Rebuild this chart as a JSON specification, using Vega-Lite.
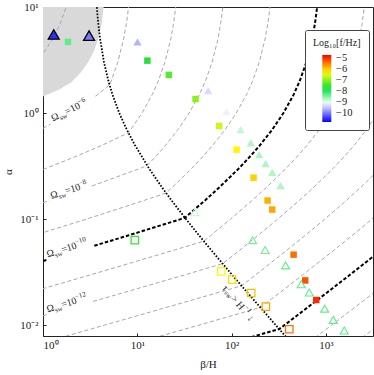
{
  "$schema": "https://vega.github.io/schema/vega-lite/v6.json",
  "autosize": {"type": "none"},
  "padding": {"left": 43, "top": 7, "right": 1, "bottom": 39},
  "width": 330,
  "height": 329,
  "background": "white",
  "config": {
    "view": {"stroke": "#222", "strokeWidth": 1},
    "axis": {"grid": false, "domain": false, "tickColor": "#222", "tickSize": -3, "labelFont": "Liberation Serif", "labelFontSize": 11, "titleFont": "Liberation Serif", "titleFontSize": 11, "titleFontWeight": "normal", "labelColor": "#222", "titleColor": "#222"},
    "text": {"font": "Liberation Serif", "color": "#222"}
  },
  "datasets": {
    "contours": [
      {"n": -5, "s": "m5", "b": 0.383, "a": 1.5}, {"n": -5, "s": "m5", "b": 0.564, "a": 2}, {"n": -5, "s": "m5", "b": 0.867, "a": 3}, {"n": -5, "s": "m5", "b": 1.275, "a": 5}, {"n": -5, "s": "m5", "b": 1.526, "a": 7}, {"n": -5, "s": "m5", "b": 1.758, "a": 10},
      {"n": -6, "s": "m6a", "b": 1, "a": 0.718}, {"n": -6, "s": "m6a", "b": 1.2, "a": 0.786},
      {"n": -6, "s": "m6b", "b": 3.6, "a": 1.445}, {"n": -6, "s": "m6b", "b": 3.83, "a": 1.5}, {"n": -6, "s": "m6b", "b": 5.08, "a": 1.849}, {"n": -6, "s": "m6b", "b": 5.28, "a": 2}, {"n": -6, "s": "m6b", "b": 6.2, "a": 3}, {"n": -6, "s": "m6b", "b": 7.17, "a": 5}, {"n": -6, "s": "m6b", "b": 7.67, "a": 7}, {"n": -6, "s": "m6b", "b": 8.09, "a": 10},
      {"n": -7, "s": "m7", "b": 0.305, "a": 0.2}, {"n": -7, "s": "m7", "b": 1.065, "a": 0.3}, {"n": -7, "s": "m7", "b": 2.401, "a": 0.4}, {"n": -7, "s": "m7", "b": 4.3, "a": 0.5}, {"n": -7, "s": "m7", "b": 8.04, "a": 0.652}, {"n": -7, "s": "m7", "b": 8.56, "a": 0.7}, {"n": -7, "s": "m7", "b": 11.22, "a": 1}, {"n": -7, "s": "m7", "b": 14.44, "a": 1.5}, {"n": -7, "s": "m7", "b": 16.69, "a": 2}, {"n": -7, "s": "m7", "b": 19.62, "a": 3}, {"n": -7, "s": "m7", "b": 22.68, "a": 5}, {"n": -7, "s": "m7", "b": 24.25, "a": 7}, {"n": -7, "s": "m7", "b": 25.57, "a": 10},
      {"n": -8, "s": "m8a", "b": 1, "a": 0.1429}, {"n": -8, "s": "m8a", "b": 1.17, "a": 0.1495},
      {"n": -8, "s": "m8b", "b": 3.3, "a": 0.205}, {"n": -8, "s": "m8b", "b": 10.65, "a": 0.3}, {"n": -8, "s": "m8b", "b": 12.75, "a": 0.3204}, {"n": -8, "s": "m8b", "b": 16.16, "a": 0.4}, {"n": -8, "s": "m8b", "b": 20.11, "a": 0.5}, {"n": -8, "s": "m8b", "b": 27.07, "a": 0.7}, {"n": -8, "s": "m8b", "b": 35.49, "a": 1}, {"n": -8, "s": "m8b", "b": 45.66, "a": 1.5}, {"n": -8, "s": "m8b", "b": 52.78, "a": 2}, {"n": -8, "s": "m8b", "b": 62.04, "a": 3}, {"n": -8, "s": "m8b", "b": 71.71, "a": 5}, {"n": -8, "s": "m8b", "b": 76.69, "a": 7}, {"n": -8, "s": "m8b", "b": 80.87, "a": 10},
      {"n": -9, "s": "m9", "b": 0.2285, "a": 0.05}, {"n": -9, "s": "m9", "b": 0.7976, "a": 0.07}, {"n": -9, "s": "m9", "b": 2.897, "a": 0.1}, {"n": -9, "s": "m9", "b": 11.83, "a": 0.15}, {"n": -9, "s": "m9", "b": 20.21, "a": 0.1764}, {"n": -9, "s": "m9", "b": 23.59, "a": 0.2}, {"n": -9, "s": "m9", "b": 37.69, "a": 0.3}, {"n": -9, "s": "m9", "b": 51.1, "a": 0.4}, {"n": -9, "s": "m9", "b": 63.6, "a": 0.5}, {"n": -9, "s": "m9", "b": 85.6, "a": 0.7}, {"n": -9, "s": "m9", "b": 112.2, "a": 1}, {"n": -9, "s": "m9", "b": 144.4, "a": 1.5}, {"n": -9, "s": "m9", "b": 166.9, "a": 2}, {"n": -9, "s": "m9", "b": 196.2, "a": 3}, {"n": -9, "s": "m9", "b": 226.8, "a": 5}, {"n": -9, "s": "m9", "b": 242.5, "a": 7}, {"n": -9, "s": "m9", "b": 255.7, "a": 10},
      {"n": -10, "s": "m10a", "b": 1, "a": 0.04024}, {"n": -10, "s": "m10a", "b": 1.09, "a": 0.04115},
      {"n": -10, "s": "m10b", "b": 3.5, "a": 0.05608}, {"n": -10, "s": "m10b", "b": 7.976, "a": 0.07}, {"n": -10, "s": "m10b", "b": 28.97, "a": 0.1}, {"n": -10, "s": "m10b", "b": 32.03, "a": 0.1029}, {"n": -10, "s": "m10b", "b": 52.26, "a": 0.15}, {"n": -10, "s": "m10b", "b": 74.6, "a": 0.2}, {"n": -10, "s": "m10b", "b": 119.2, "a": 0.3}, {"n": -10, "s": "m10b", "b": 161.6, "a": 0.4}, {"n": -10, "s": "m10b", "b": 201.1, "a": 0.5}, {"n": -10, "s": "m10b", "b": 270.7, "a": 0.7}, {"n": -10, "s": "m10b", "b": 354.9, "a": 1}, {"n": -10, "s": "m10b", "b": 456.6, "a": 1.5}, {"n": -10, "s": "m10b", "b": 527.8, "a": 2}, {"n": -10, "s": "m10b", "b": 620.4, "a": 3}, {"n": -10, "s": "m10b", "b": 717.1, "a": 5}, {"n": -10, "s": "m10b", "b": 766.9, "a": 7}, {"n": -10, "s": "m10b", "b": 808.7, "a": 10},
      {"n": -11, "s": "m11", "b": 0.01865, "a": 0.008}, {"n": -11, "s": "m11", "b": 0.045, "a": 0.01}, {"n": -11, "s": "m11", "b": 0.6815, "a": 0.02}, {"n": -11, "s": "m11", "b": 3.272, "a": 0.03}, {"n": -11, "s": "m11", "b": 22.85, "a": 0.05}, {"n": -11, "s": "m11", "b": 50.75, "a": 0.062}, {"n": -11, "s": "m11", "b": 60.13, "a": 0.07}, {"n": -11, "s": "m11", "b": 97.5, "a": 0.1}, {"n": -11, "s": "m11", "b": 165.2, "a": 0.15}, {"n": -11, "s": "m11", "b": 235.9, "a": 0.2}, {"n": -11, "s": "m11", "b": 376.9, "a": 0.3}, {"n": -11, "s": "m11", "b": 510.9, "a": 0.4}, {"n": -11, "s": "m11", "b": 636.1, "a": 0.5}, {"n": -11, "s": "m11", "b": 856, "a": 0.7}, {"n": -11, "s": "m11", "b": 1122, "a": 1}, {"n": -11, "s": "m11", "b": 1444, "a": 1.5}, {"n": -11, "s": "m11", "b": 1669, "a": 2}, {"n": -11, "s": "m11", "b": 1962, "a": 3}, {"n": -11, "s": "m11", "b": 2268, "a": 5}, {"n": -11, "s": "m11", "b": 2425, "a": 7}, {"n": -11, "s": "m11", "b": 2557, "a": 10},
      {"n": -12, "s": "m12a", "b": 1, "a": 0.01226}, {"n": -12, "s": "m12a", "b": 1.09, "a": 0.01253},
      {"n": -12, "s": "m12b", "b": 3.4, "a": 0.01675}, {"n": -12, "s": "m12b", "b": 6.815, "a": 0.02}, {"n": -12, "s": "m12b", "b": 32.72, "a": 0.03}, {"n": -12, "s": "m12b", "b": 80.4, "a": 0.038}, {"n": -12, "s": "m12b", "b": 119, "a": 0.05}, {"n": -12, "s": "m12b", "b": 190.1, "a": 0.07}, {"n": -12, "s": "m12b", "b": 308.4, "a": 0.1}, {"n": -12, "s": "m12b", "b": 522.6, "a": 0.15}, {"n": -12, "s": "m12b", "b": 745.9, "a": 0.2}, {"n": -12, "s": "m12b", "b": 1192, "a": 0.3}, {"n": -12, "s": "m12b", "b": 1616, "a": 0.4}, {"n": -12, "s": "m12b", "b": 2011, "a": 0.5}, {"n": -12, "s": "m12b", "b": 2707, "a": 0.7}, {"n": -12, "s": "m12b", "b": 3549, "a": 1},
      {"n": -13, "s": "m13", "b": 1.099, "a": 0.007}, {"n": -13, "s": "m13", "b": 1.865, "a": 0.008}, {"n": -13, "s": "m13", "b": 4.5, "a": 0.01}, {"n": -13, "s": "m13", "b": 68.15, "a": 0.02}, {"n": -13, "s": "m13", "b": 127.5, "a": 0.0235}, {"n": -13, "s": "m13", "b": 181.5, "a": 0.03}, {"n": -13, "s": "m13", "b": 376.2, "a": 0.05}, {"n": -13, "s": "m13", "b": 601.3, "a": 0.07}, {"n": -13, "s": "m13", "b": 975.2, "a": 0.1}, {"n": -13, "s": "m13", "b": 1652, "a": 0.15}, {"n": -13, "s": "m13", "b": 2359, "a": 0.2}, {"n": -13, "s": "m13", "b": 3769, "a": 0.3},
      {"n": -14, "s": "m14", "b": 11.0, "a": 0.007}, {"n": -14, "s": "m14", "b": 18.65, "a": 0.008}, {"n": -14, "s": "m14", "b": 45.0, "a": 0.01}, {"n": -14, "s": "m14", "b": 202.1, "a": 0.01467}, {"n": -14, "s": "m14", "b": 318.8, "a": 0.02}, {"n": -14, "s": "m14", "b": 574.1, "a": 0.03}, {"n": -14, "s": "m14", "b": 1189.6, "a": 0.05}, {"n": -14, "s": "m14", "b": 1901, "a": 0.07}, {"n": -14, "s": "m14", "b": 3084, "a": 0.1}, {"n": -14, "s": "m14", "b": 5226, "a": 0.15},
      {"n": -15, "s": "m15", "b": 109.9, "a": 0.007}, {"n": -15, "s": "m15", "b": 186.5, "a": 0.008}, {"n": -15, "s": "m15", "b": 320.2, "a": 0.00918}, {"n": -15, "s": "m15", "b": 363.8, "a": 0.01}, {"n": -15, "s": "m15", "b": 1008, "a": 0.02}, {"n": -15, "s": "m15", "b": 1815, "a": 0.03}, {"n": -15, "s": "m15", "b": 3762, "a": 0.05},
      {"n": -16, "s": "m16", "b": 678.1, "a": 0.007}, {"n": -16, "s": "m16", "b": 826.9, "a": 0.008}, {"n": -16, "s": "m16", "b": 1150, "a": 0.01}, {"n": -16, "s": "m16", "b": 3187, "a": 0.02}, {"n": -16, "s": "m16", "b": 5741, "a": 0.03},
      {"n": -17, "s": "m17", "b": 2145, "a": 0.007}, {"n": -17, "s": "m17", "b": 2615, "a": 0.008}, {"n": -17, "s": "m17", "b": 3637, "a": 0.01}
    ],
    "dotted": [
      {"b": 418.3, "a": 0.007}, {"b": 366.6, "a": 0.008}, {"b": 294.1, "a": 0.01}, {"b": 149.1, "a": 0.02}, {"b": 100.7, "a": 0.03}, {"b": 61.96, "a": 0.05}, {"b": 45.33, "a": 0.07}, {"b": 32.83, "a": 0.1}, {"b": 23.1, "a": 0.15}, {"b": 18.22, "a": 0.2}, {"b": 13.33, "a": 0.3}, {"b": 9.41, "a": 0.5}, {"b": 7.72, "a": 0.7}, {"b": 6.44, "a": 1}, {"b": 5.445, "a": 1.5}, {"b": 4.945, "a": 2}, {"b": 4.44, "a": 3}, {"b": 4.031, "a": 5}, {"b": 3.854, "a": 7}, {"b": 3.721, "a": 10}
    ],
    "shade": [
      {"b": 1, "a": 1.43}, {"b": 1.5, "a": 1.68}, {"b": 2.0, "a": 1.95}, {"b": 2.5, "a": 2.4}, {"b": 3.0, "a": 3.0}, {"b": 3.5, "a": 3.9}, {"b": 3.9, "a": 5.2}, {"b": 4.2, "a": 7.0}, {"b": 4.4, "a": 10}
    ],
    "runs": [
      {"m": "fs", "b": 1.84, "a": 4.69, "f": -8.3},
      {"m": "fs", "b": 12.8, "a": 3.12, "f": -7.6},
      {"m": "fs", "b": 21.6, "a": 2.29, "f": -7.3},
      {"m": "fs", "b": 41.5, "a": 1.354, "f": -7.0},
      {"m": "fs", "b": 73.9, "a": 0.755, "f": -6.6},
      {"m": "fs", "b": 113, "a": 0.452, "f": -6.25},
      {"m": "fs", "b": 171, "a": 0.246, "f": -6.0},
      {"m": "fs", "b": 241, "a": 0.1496, "f": -5.8},
      {"m": "fs", "b": 270, "a": 0.123, "f": -5.75},
      {"m": "fs", "b": 455, "a": 0.0462, "f": -5.4},
      {"m": "fs", "b": 604, "a": 0.0264, "f": -5.2},
      {"m": "fs", "b": 791, "a": 0.01726, "f": -4.95},
      {"m": "ft", "b": 10.05, "a": 4.69, "f": -9.6},
      {"m": "ft", "b": 56.5, "a": 1.63, "f": -9.35},
      {"m": "ft", "b": 88.5, "a": 1.03, "f": -9.2},
      {"m": "ft", "b": 124.6, "a": 0.697, "f": -8.8},
      {"m": "ft", "b": 160, "a": 0.522, "f": -8.7},
      {"m": "ft", "b": 196, "a": 0.405, "f": -8.7},
      {"m": "ft", "b": 229.6, "a": 0.333, "f": -8.7},
      {"m": "ft", "b": 270, "a": 0.276, "f": -8.7},
      {"m": "ft", "b": 331, "a": 0.207, "f": -8.7},
      {"m": "et", "b": 1.3, "a": 5.51, "f": -10.5},
      {"m": "et", "b": 3.08, "a": 5.37, "f": -10.0},
      {"m": "os", "b": 9.41, "a": 0.0633, "f": -7.5},
      {"m": "os", "b": 77.6, "a": 0.0321, "f": -6.35},
      {"m": "os", "b": 101.5, "a": 0.0269, "f": -6.1},
      {"m": "os", "b": 161.5, "a": 0.0201, "f": -5.9},
      {"m": "os", "b": 231, "a": 0.01496, "f": -5.75},
      {"m": "os", "b": 409, "a": 0.00915, "f": -5.4},
      {"m": "ot", "b": 40.8, "a": 0.116, "f": -8.8},
      {"m": "ot", "b": 167, "a": 0.0633, "f": -8.4},
      {"m": "ot", "b": 227, "a": 0.051, "f": -8.4},
      {"m": "ot", "b": 374, "a": 0.0366, "f": -8.3},
      {"m": "ot", "b": 548, "a": 0.0243, "f": -8.3},
      {"m": "ot", "b": 667, "a": 0.0203, "f": -8.3},
      {"m": "ot", "b": 971, "a": 0.0143, "f": -8.3},
      {"m": "ot", "b": 1199, "a": 0.0112, "f": -8.3},
      {"m": "ot", "b": 1567, "a": 0.00889, "f": -8.3}
    ],
    "labels": [
      {"e": "−6", "g": "a", "b": 1.277, "a": 0.834},
      {"e": "−8", "g": "b", "b": 1.228, "a": 0.155},
      {"e": "−10", "g": "b", "b": 1.122, "a": 0.0434},
      {"e": "−12", "g": "b", "b": 1.122, "a": 0.01317}
    ],
    "tau": [
      {"b": 83.1, "a": 0.02314}
    ]
  },
  "encoding": {
    "x": {"field": "b", "type": "quantitative", "scale": {"type": "log", "domain": [1, 3162.28], "nice": false}, "axis": {"values": [1, 10, 100, 1000], "labelExpr": "datum.value == 1 ? '10⁰' : datum.value == 10 ? '10¹' : datum.value == 100 ? '10²' : '10³'", "labelPadding": 6, "titlePadding": 8, "title": "β/H"}},
    "y": {"field": "a", "type": "quantitative", "scale": {"type": "log", "domain": [0.0079, 10], "nice": false}, "axis": {"values": [0.01, 0.1, 1, 10], "labelExpr": "datum.value < 0.05 ? '10⁻²' : datum.value < 0.5 ? '10⁻¹' : datum.value < 5 ? '10⁰' : '10¹'", "labelPadding": 8, "titlePadding": 6, "title": "α"}}
  },
  "layer": [
    {"data": {"name": "shade"}, "mark": {"type": "area", "color": "#d9d9d9", "clip": true}, "encoding": {"y2": {"datum": 10}}},
    {"data": {"name": "contours"}, "transform": [{"filter": "datum.n != -10 && datum.n != -15"}], "mark": {"type": "line", "color": "#a8a8a8", "strokeWidth": 1, "strokeDash": [4, 2.5], "clip": true}, "encoding": {"detail": {"field": "s"}, "order": {"field": "a", "type": "quantitative"}}},
    {"data": {"name": "contours"}, "transform": [{"filter": "datum.n == -10 || datum.n == -15"}], "mark": {"type": "line", "color": "#000", "strokeWidth": 2, "strokeDash": [3.5, 2], "clip": true}, "encoding": {"detail": {"field": "s"}, "order": {"field": "a", "type": "quantitative"}}},
    {"data": {"name": "dotted"}, "mark": {"type": "line", "color": "#000", "strokeWidth": 1.8, "strokeDash": [1.6, 1.6], "clip": true}, "encoding": {"order": {"field": "a", "type": "quantitative"}}},
    {"data": {"name": "labels"}, "transform": [{"filter": "datum.g == 'a'"}], "mark": {"type": "text", "angle": -26, "align": "left", "baseline": "alphabetic", "fontSize": 10, "text": "Ω"}},
    {"data": {"name": "labels"}, "transform": [{"filter": "datum.g == 'a'"}], "mark": {"type": "text", "angle": -26, "align": "left", "baseline": "alphabetic", "fontSize": 7, "dx": 7.6, "dy": 2.5, "text": "sw"}},
    {"data": {"name": "labels"}, "transform": [{"filter": "datum.g == 'a'"}], "mark": {"type": "text", "angle": -26, "align": "left", "baseline": "alphabetic", "fontSize": 10, "dx": 15.4, "text": "=10"}},
    {"data": {"name": "labels"}, "transform": [{"filter": "datum.g == 'a'"}], "mark": {"type": "text", "angle": -26, "align": "left", "baseline": "alphabetic", "fontSize": 7, "dx": 30.8, "dy": -4.2}, "encoding": {"text": {"field": "e"}}},
    {"data": {"name": "labels"}, "transform": [{"filter": "datum.g == 'b'"}], "mark": {"type": "text", "angle": -17.5, "align": "left", "baseline": "alphabetic", "fontSize": 10, "text": "Ω"}},
    {"data": {"name": "labels"}, "transform": [{"filter": "datum.g == 'b'"}], "mark": {"type": "text", "angle": -17.5, "align": "left", "baseline": "alphabetic", "fontSize": 7, "dx": 7.6, "dy": 2.5, "text": "sw"}},
    {"data": {"name": "labels"}, "transform": [{"filter": "datum.g == 'b'"}], "mark": {"type": "text", "angle": -17.5, "align": "left", "baseline": "alphabetic", "fontSize": 10, "dx": 15.4, "text": "=10"}},
    {"data": {"name": "labels"}, "transform": [{"filter": "datum.g == 'b'"}], "mark": {"type": "text", "angle": -17.5, "align": "left", "baseline": "alphabetic", "fontSize": 7, "dx": 30.8, "dy": -4.2}, "encoding": {"text": {"field": "e"}}},
    {"data": {"name": "tau"}, "mark": {"type": "text", "angle": 50, "align": "left", "baseline": "middle", "fontSize": 10, "text": "τ"}},
    {"data": {"name": "tau"}, "mark": {"type": "text", "angle": 50, "align": "left", "baseline": "middle", "fontSize": 7, "dx": 4.8, "dy": 2.5, "text": "sw"}},
    {"data": {"name": "tau"}, "mark": {"type": "text", "angle": 50, "align": "left", "baseline": "middle", "fontSize": 10, "dx": 13.5, "text": "> H"}},
    {"data": {"name": "tau"}, "mark": {"type": "text", "angle": 50, "align": "left", "baseline": "middle", "fontSize": 7, "dx": 29, "dy": -4, "text": "−1"}},
    {"data": {"name": "tau"}, "mark": {"type": "text", "angle": 50, "align": "left", "baseline": "middle", "fontSize": 10, "dx": 39, "text": "↓"}},
    {"data": {"name": "runs"}, "transform": [{"filter": "datum.m == 'fs'"}], "mark": {"type": "square", "filled": true, "size": 42, "opacity": 1},
     "encoding": {"color": {"field": "f", "type": "quantitative", "title": "Log₁₀[f/Hz]", "scale": {"domain": [-10.8, -9.1, -7.8, -6.3, -4.7], "range": ["#0000ff", "#ffffff", "#00e040", "#ffff00", "#ff0000"], "interpolate": "rgb"},
       "legend": {"type": "gradient", "orient": "none", "legendX": 262, "legendY": 23, "direction": "vertical", "gradientLength": 67, "gradientThickness": 9, "values": [-10, -9, -8, -7, -6, -5], "labelExpr": "replace(datum.label, '-', '−')", "labelOverlap": false, "labelOffset": 14, "labelFont": "Liberation Serif", "labelFontSize": 10.5, "labelColor": "#222", "titleFont": "Liberation Serif", "titleFontSize": 10, "titleFontWeight": "normal", "titleColor": "#222", "titlePadding": 7, "padding": 8, "fillColor": "white", "strokeColor": "#444", "cornerRadius": 2, "gradientStrokeWidth": 0, "encoding": {"gradient": {"x": {"value": 9.3}}}}}}},
    {"data": {"name": "runs"}, "transform": [{"filter": "datum.m == 'ft'"}], "mark": {"type": "point", "shape": "triangle-up", "filled": true, "size": 70, "opacity": 1},
     "encoding": {"color": {"field": "f", "type": "quantitative", "title": "Log₁₀[f/Hz]", "scale": {"domain": [-10.8, -9.1, -7.8, -6.3, -4.7], "range": ["#0000ff", "#ffffff", "#00e040", "#ffff00", "#ff0000"], "interpolate": "rgb"}}}},
    {"data": {"name": "runs"}, "transform": [{"filter": "datum.m == 'et'"}], "mark": {"type": "point", "shape": "triangle-up", "filled": true, "size": 120, "opacity": 1, "stroke": "#000", "strokeWidth": 1.3},
     "encoding": {"color": {"field": "f", "type": "quantitative", "title": "Log₁₀[f/Hz]", "scale": {"domain": [-10.8, -9.1, -7.8, -6.3, -4.7], "range": ["#0000ff", "#ffffff", "#00e040", "#ffff00", "#ff0000"], "interpolate": "rgb"}}}},
    {"data": {"name": "runs"}, "transform": [{"filter": "datum.m == 'os'"}], "mark": {"type": "point", "shape": "square", "filled": false, "size": 55, "opacity": 1, "strokeWidth": 1.3},
     "encoding": {"stroke": {"field": "f", "type": "quantitative", "scale": {"domain": [-10.801, -9.1, -7.8, -6.3, -4.7], "range": ["#0000ff", "#ffffff", "#00e040", "#ffff00", "#ff0000"], "interpolate": "rgb"}, "legend": null}}},
    {"data": {"name": "runs"}, "transform": [{"filter": "datum.m == 'ot'"}], "mark": {"type": "point", "shape": "triangle-up", "filled": false, "size": 64, "opacity": 1, "strokeWidth": 1.1},
     "encoding": {"stroke": {"field": "f", "type": "quantitative", "scale": {"domain": [-10.801, -9.1, -7.8, -6.3, -4.7], "range": ["#0000ff", "#ffffff", "#00e040", "#ffff00", "#ff0000"], "interpolate": "rgb"}, "legend": null}}}
  ]
}
